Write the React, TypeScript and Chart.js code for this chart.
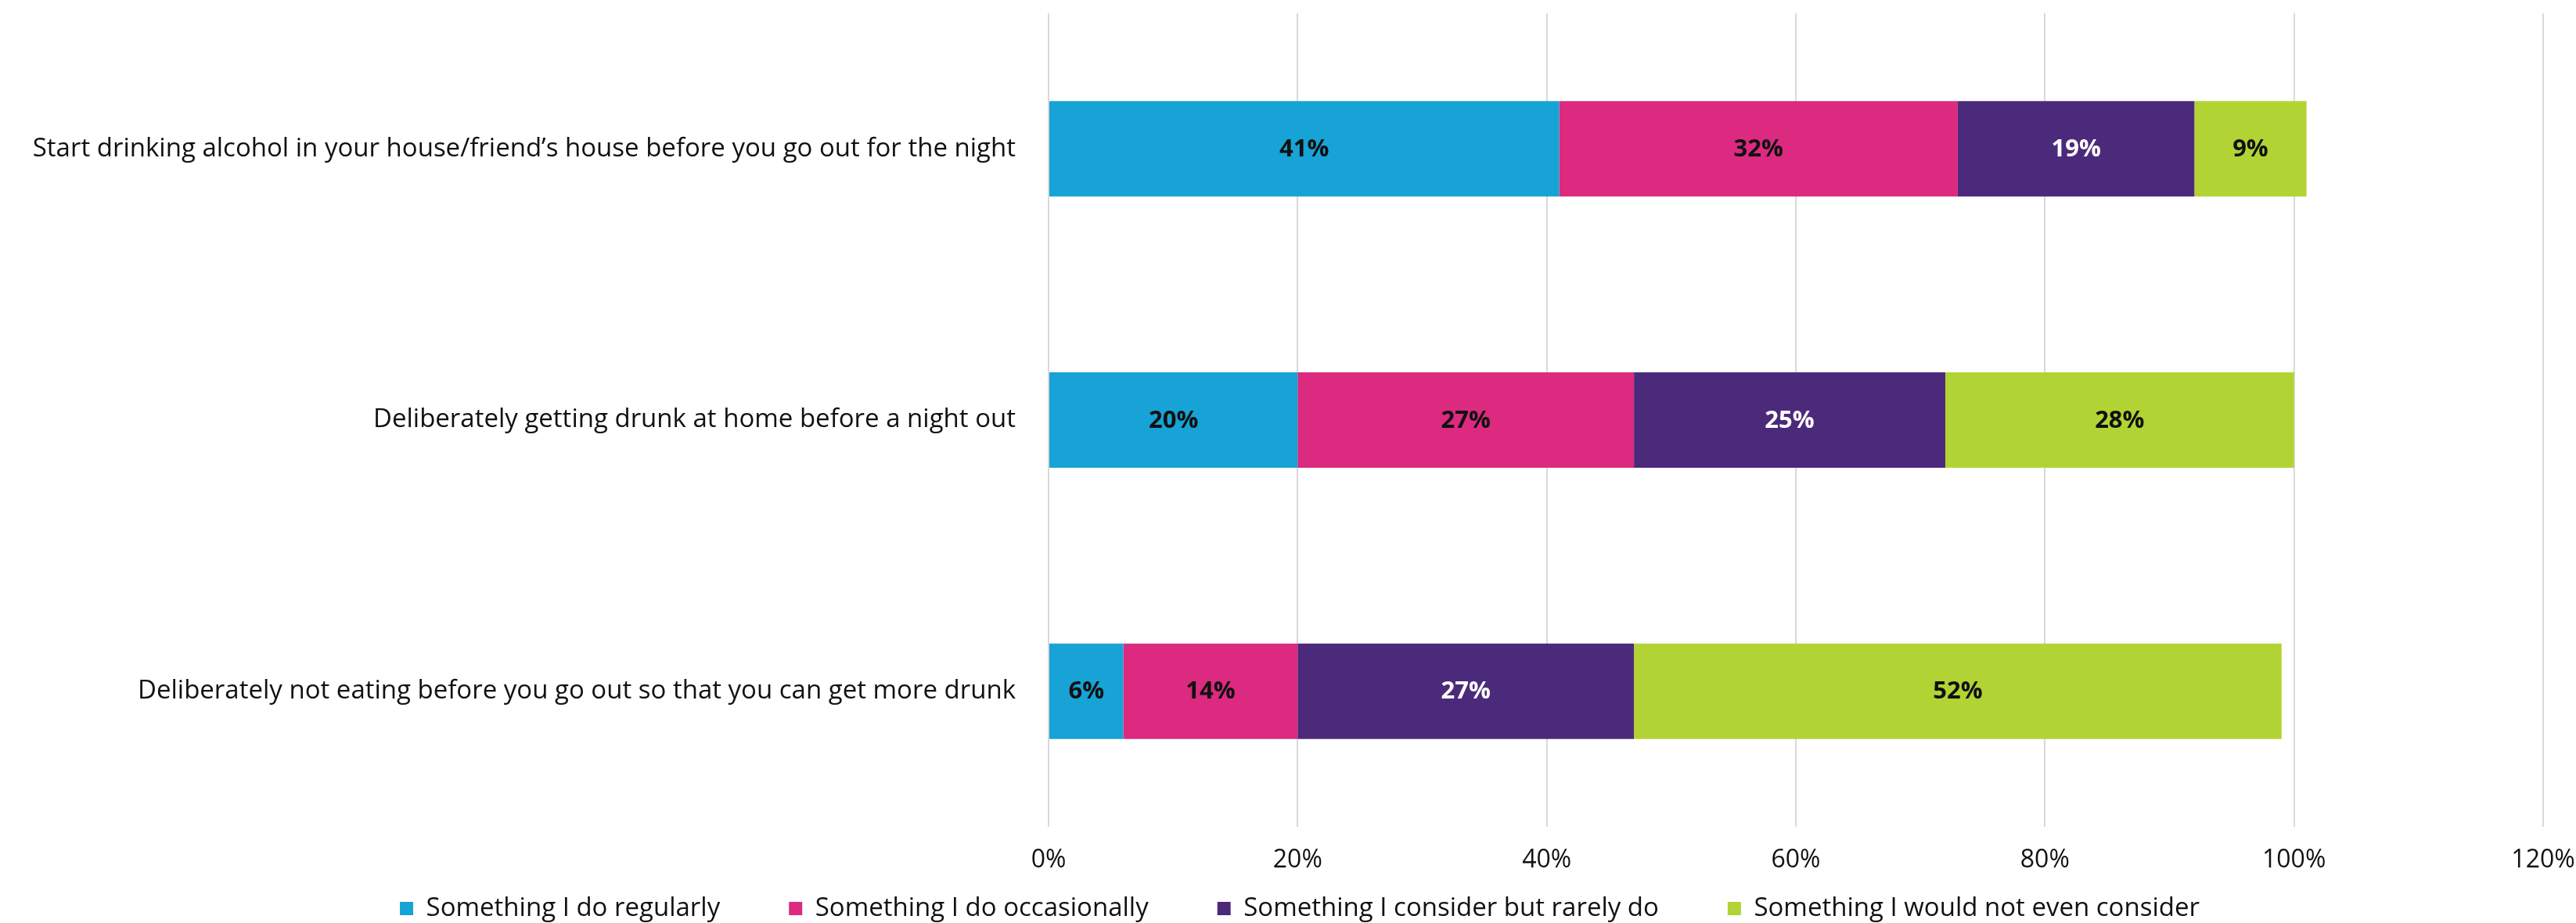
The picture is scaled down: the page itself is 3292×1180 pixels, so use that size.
import React, { useEffect, useRef } from "react";
import { Chart, registerables } from "chart.js";

Chart.register(...registerables);

const categories = [
  "Start drinking alcohol in your house/friend’s house before you go out for the night",
  "Deliberately getting drunk at home before a night out",
  "Deliberately not eating before you go out so that you can get more drunk",
];
const seriesNames = [
  "Something I do regularly",
  "Something I do occasionally",
  "Something I consider but rarely do",
  "Something I would not even consider",
];
const doRegularly = [41, 20, 6];
const doOccasionally = [32, 27, 14];
const considerRarely = [19, 25, 27];
const wouldNotConsider = [9, 28, 52];
const xMin = 0;
const xMax = 120;
const xStep = 20;

const barColors = ["#17A3D6", "#DC2A80", "#4C2A7B", "#B2D334"];
const valueLabelColors = ["#111111", "#111111", "#FFFFFF", "#111111"];
const FONT = "'Open Sans', 'Noto Sans', sans-serif";

const valueLabels = {
  id: "valueLabels",
  afterDatasetsDraw(chart: any) {
    const ctx = chart.ctx;
    ctx.save();
    ctx.font = `bold 31px ${FONT}`;
    ctx.textAlign = "center";
    ctx.textBaseline = "middle";
    chart.data.datasets.forEach((ds: any, di: number) => {
      const meta = chart.getDatasetMeta(di);
      if (meta.hidden) return;
      meta.data.forEach((el: any, i: number) => {
        const v = ds.data[i];
        const { x, y, base } = el.getProps(["x", "y", "base"], true);
        ctx.fillStyle = valueLabelColors[di];
        ctx.fillText(`${v}%`, (x + base) / 2, y + 1);
      });
    });
    ctx.restore();
  },
};

export default function App() {
  const ref = useRef<HTMLCanvasElement | null>(null);
  useEffect(() => {
    document.body.style.margin = "0";
    if (!ref.current) return;
    const series = [doRegularly, doOccasionally, considerRarely, wouldNotConsider];
    const chart = new Chart(ref.current, {
      type: "bar",
      data: {
        labels: categories,
        datasets: series.map((d, i) => ({
          label: seriesNames[i],
          data: d,
          backgroundColor: barColors[i],
          borderWidth: 0,
          barPercentage: 1,
          categoryPercentage: 0.352,
        })),
      },
      options: {
        indexAxis: "y",
        animation: false,
        responsive: true,
        maintainAspectRatio: false,
        layout: { padding: { top: 17, right: 0, left: 30, bottom: 0 } },
        plugins: {
          legend: {
            position: "bottom",
            maxHeight: 123,
            labels: {
              boxWidth: 17,
              boxHeight: 17,
              padding: 88,
              color: "#111",
              font: { family: FONT, size: 33 },
            },
          },
          tooltip: { enabled: false },
        },
        scales: {
          x: {
            stacked: true,
            min: xMin,
            max: xMax,
            ticks: {
              stepSize: xStep,
              color: "#111",
              font: { family: FONT, size: 32 },
              mirror: true,
              padding: -62,
              callback: (v: any) => `${v}%`,
            },
            grid: { color: "#D9D9D9", lineWidth: 2, drawTicks: false },
            border: { display: false },
            afterFit: (s: any) => {
              s.height = 0;
              s.paddingRight = 42;
            },
          },
          y: {
            stacked: true,
            ticks: {
              color: "#111",
              font: { family: FONT, size: 33 },
              padding: 42,
            },
            grid: { display: false, drawTicks: false },
            border: { display: false },
            afterFit: (s: any) => {
              s.width = 1310;
              s.paddingTop = 0;
              s.paddingBottom = 0;
            },
          },
        },
      },
      plugins: [valueLabels],
    });
    return () => chart.destroy();
  }, []);
  return (
    <div style={{ width: 3292, height: 1180, position: "relative" }}>
      <canvas ref={ref} />
    </div>
  );
}
